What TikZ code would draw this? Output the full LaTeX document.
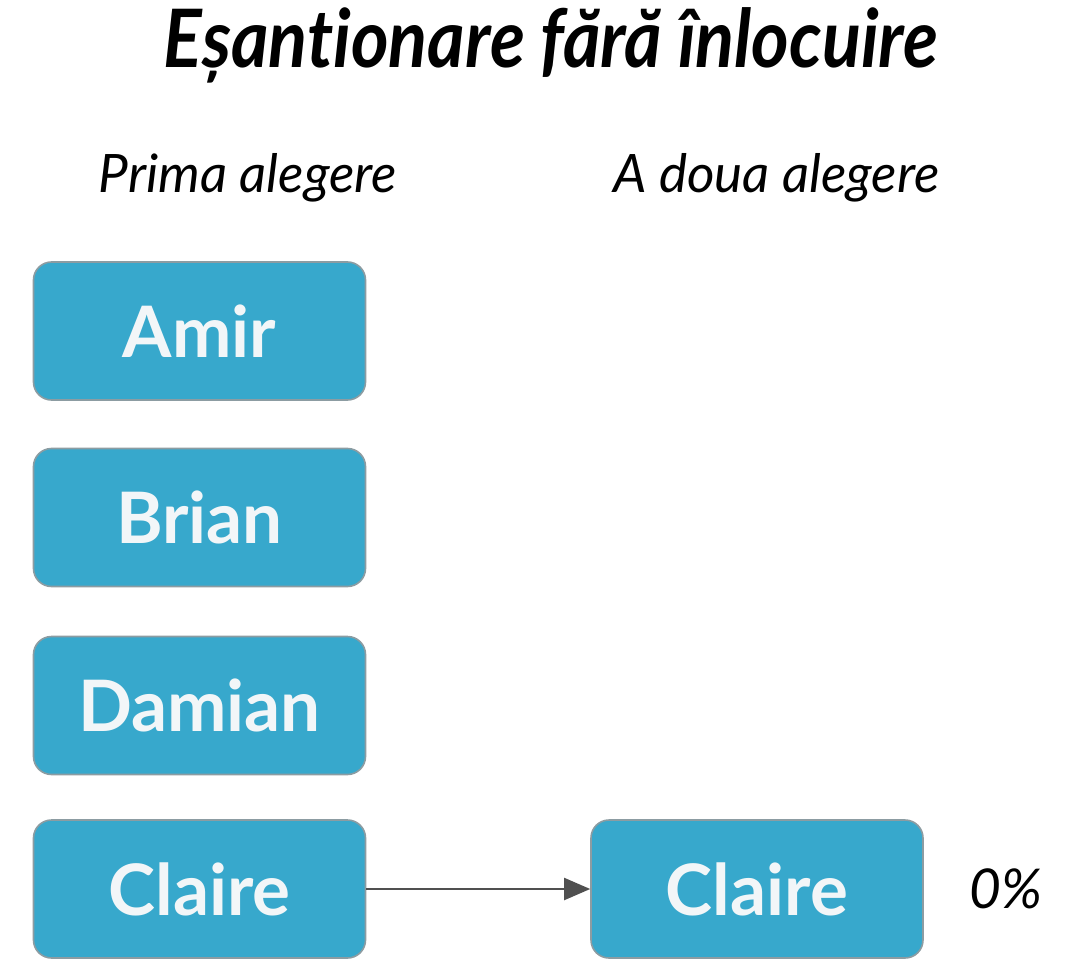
\documentclass[tikz,border=0pt]{standalone}
\usepackage{fontspec}
\setmainfont{Lato}[Ligatures=NoCommon]
\usetikzlibrary{arrows.meta}
\definecolor{boxfill}{HTML}{37A8CC}
\definecolor{boxline}{HTML}{8C9CA2}
\definecolor{boxtext}{HTML}{F2F6F8}
\definecolor{arrowcol}{HTML}{505050}
\tikzset{
  namebox/.style={draw=boxline, line width=1.6pt, fill=boxfill, rounded corners=18pt,
    minimum width=332pt, minimum height=138pt, inner sep=0pt,
    text=boxtext, font=\fontsize{71}{80}\selectfont\bfseries},
  heading/.style={font=\fontsize{53}{60}\selectfont\itshape, inner sep=0pt, text=black},
  link/.style={draw=arrowcol, line width=2pt, -{Triangle[length=26pt,width=22pt]}}
}
\begin{document}
\begin{tikzpicture}[x=1pt,y=-1pt]
\useasboundingbox (0,0) rectangle (1086,976);
\node[font=\fontsize{72}{90}\selectfont\bfseries\itshape, inner sep=0pt] (title) at (551,45) {\scalebox{1}[1.12]{Eșantionare fără înlocuire}};
\node[heading] (h1) at (248,178) {Prima alegere};
\node[heading] (h2) at (776.5,178) {A doua alegere};
\node[namebox] (amir) at (199.5,331) {Amir};
\node[namebox] (brian) at (199.5,517.5) {Brian};
\node[namebox] (damian) at (199.5,705.5) {Damian};
\node[namebox] (claire1) at (199.5,889) {Claire};
\node[namebox] (claire2) at (757,889) {Claire};
\node[font=\fontsize{55}{60}\selectfont\itshape, inner sep=0pt] (pct) at (1006,889) {0\%};
\draw[link] (claire1) -- (claire2);
\end{tikzpicture}
\end{document}
